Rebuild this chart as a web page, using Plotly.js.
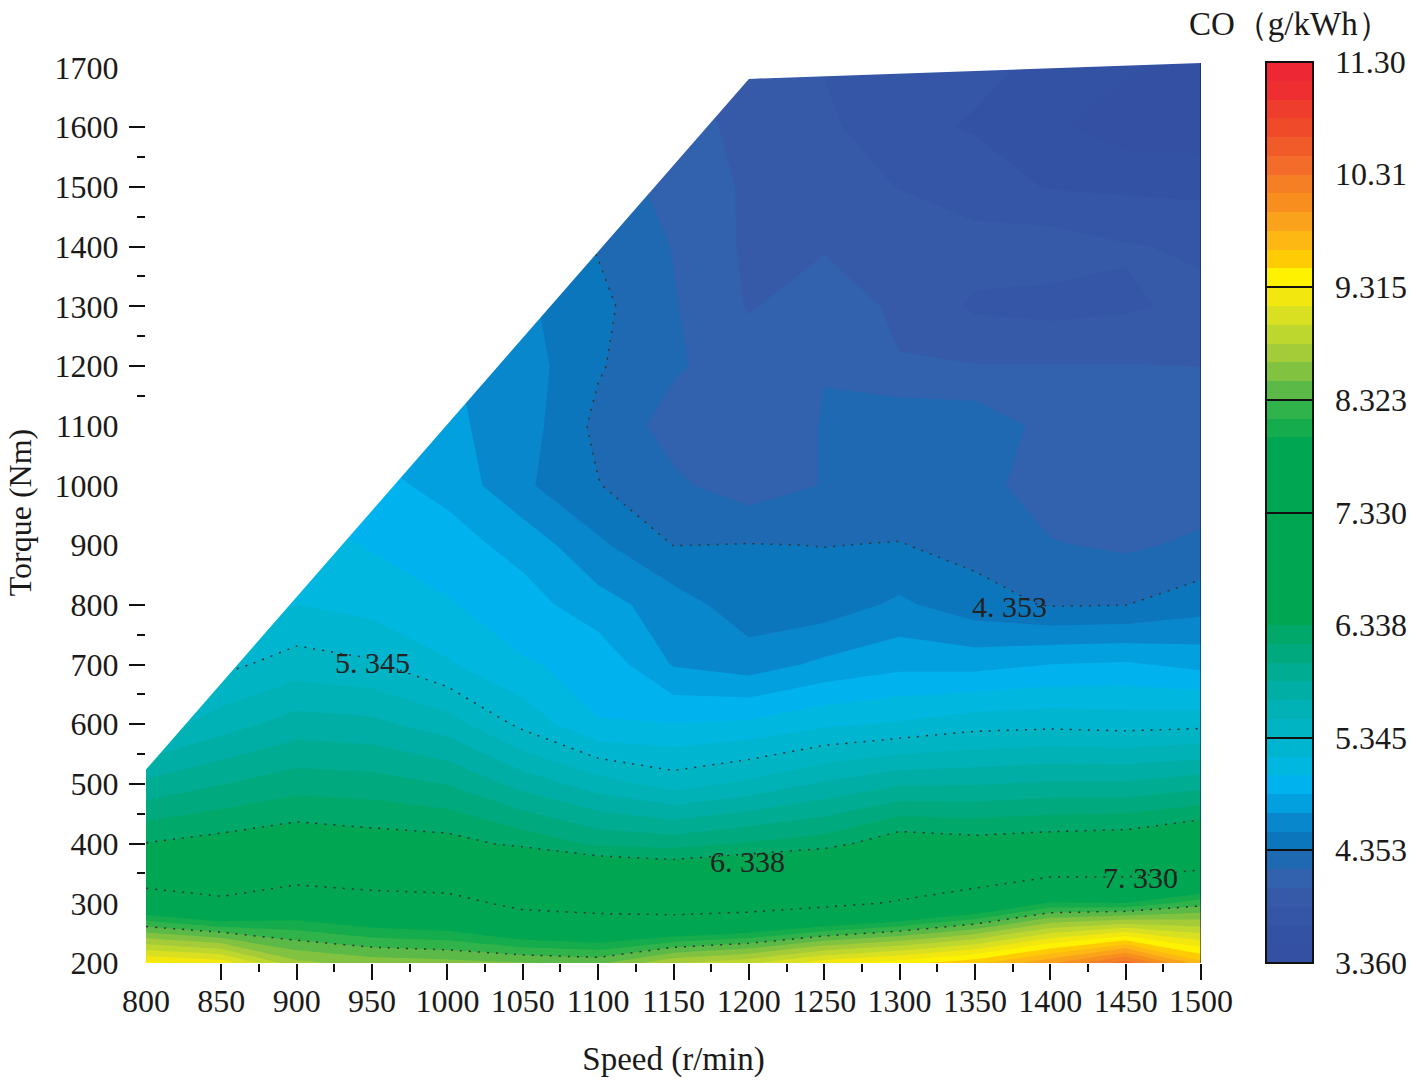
<!DOCTYPE html>
<html><head><meta charset="utf-8">
<script src="https://cdn.plot.ly/plotly-3.0.1.min.js"></script>
<style>html,body{margin:0;padding:0;background:#fff}</style></head>
<body><div id="chart" style="width:1417px;height:1088px"></div>
<script>
const speed = [800,850,900,950,1000,1050,1100,1150,1200,1250,1300,1350,1400,1450,1500];
const torque = [200,300,400,500,600,700,800,900,1000,1100,1200,1300,1400,1500,1600,1710];
const n = null;
const co200  = [9.35,9.25,8.7,8.59,8.55,8.5,8.45,8.8,8.95,9.25,9.4,9.6,9.95,10.4,9.7];
const co300  = [7.665,7.45,7.71,7.58,7.52,7.19,7.1,6.98,7.05,7.2,7.38,7.64,8.02,8.0,8.26];
const co400  = [6.345,6.41,6.475,6.43,6.41,6.29,6.14,6.105,6.19,6.26,6.47,6.42,6.455,6.48,6.6];
const co500  = [5.88,6.0,6.1,6.08,6.0,5.78,5.59,5.44,5.55,5.7,5.82,5.83,5.87,5.87,5.94];
const co600  = [5.4,5.6,5.75,5.72,5.59,5.3,5.02,5.02,5.05,5.15,5.2,5.28,5.3,5.28,5.3];
const co700  = [5.2,5.3,5.42,5.37,5.2,5.03,4.97,4.67,4.6,4.72,4.8,4.79,4.85,4.87,4.8];
const co800  = [n,5.05,5.18,5.12,5.03,4.92,4.75,4.6,4.42,4.43,4.55,4.42,4.34,4.35,4.45];
const co900  = [n,n,5.1,5.0,4.92,4.79,4.55,4.35,4.36,4.35,4.36,4.3,4.2,4.16,4.22];
const co1000 = [n,n,n,4.9,4.8,4.55,4.36,4.22,4.1,4.195,4.25,4.25,4.1,4.1,4.1];
const co1100 = [n,n,n,4.8,4.72,4.6,4.31,4.12,4.05,4.2,4.33,4.3,4.13,4.1,4.1];
const co1200 = [n,n,n,n,4.7,4.6,4.37,4.21,4.1,4.18,4.03,4.03,4.03,4.03,4.02];
const co1300 = [n,n,n,n,n,4.55,4.4,4.2,4.01,4.1,3.995,3.83,3.8,3.83,3.9];
const co1400 = [n,n,n,n,n,4.5,4.34,4.18,3.99,4.01,4.0,3.93,3.95,3.87,3.83];
const co1500 = [n,n,n,n,n,n,4.3,4.12,4.0,3.95,3.85,3.76,3.68,3.66,3.65];
const co1600 = [n,n,n,n,n,n,n,4.1,3.97,3.9,3.72,3.68,3.55,3.45,3.42];
const co1710 = [n,n,n,n,n,n,n,4.05,3.95,3.84,3.75,3.72,3.67,3.55,3.5];
const coGrid = [co200,co300,co400,co500,co600,co700,co800,co900,co1000,co1100,co1200,co1300,co1400,co1500,co1600,co1710];

const levelLabels = [3.36,4.353,5.345,6.338,7.33,8.323,9.315,10.31,11.3];
const levelText = ['3.360','4.353','5.345','6.338','7.330','8.323','9.315','10.31','11.30'];
const dividerLevels = [4.353,5.345,7.33,8.323,9.315];
const lineLevels = {start:4.353,end:9.315,size:0.9925};

// outline of the measured region (speed, torque); outside it the page stays white
const edgeSpeed = [800,1200,1500,1500,800];
const edgeTorque = [524,1681,1707.7,1730,1730];

const xTicks = [800,850,900,950,1000,1050,1100,1150,1200,1250,1300,1350,1400,1450,1500];
const yTicks = [200,300,400,500,600,700,800,900,1000,1100,1200,1300,1400,1500,1600,1700];
const xMarks = [850,900,950,1000,1050,1100,1150,1200,1250,1300,1350,1400,1450,1500];
const xMinor = [875,925,975,1025,1075,1125,1175,1225,1275,1325,1375,1425,1475];
const yMarks = [400,500,600,700,800,1200,1300,1400,1500,1600];
const yMinor = [350,450,550,650,750,1150,1250,1350,1450,1550];

const lineNotes = [
  {x:1373,y:797,text:'4. 353'},
  {x:950,y:703,text:'5. 345'},
  {x:1199,y:370,text:'6. 338'},
  {x:1460,y:343,text:'7. 330'}
];

const bandColors = ['#3450a3','#3452a4','#3556a6','#3659a8','#3262ae','#1f68b2','#0c76bd','#0987cd','#03a0e0','#00b3ef','#00b7e0','#00b5d0','#00b4c4','#00b2b6','#00aea5','#00ac92','#00a97e','#00a869',
 '#00a651','#00a651','#00a651','#00a651','#00a651','#00a651','#00a651','#00a651','#00a651','#00a651','#14ac4c','#2fb34a',
 '#5bb947','#81c341','#a4cc39','#bed72f','#d9e021','#f2e80f','#fff200','#ffcb05','#fdb813','#faa21b','#f78e1e','#f57f25','#f36c29','#f15a29','#ef4a2a','#ee3d2c','#ee2e31','#ed2733'];
const nLev = bandColors.length + 1;
const scale = [[0,bandColors[0]]];
bandColors.forEach((c,i)=>{ scale.push([(i+0.5)/nLev,c]); scale.push([(i+1.5)/nLev,c]); });
scale.push([1,bandColors[bandColors.length-1]]);

const serif = '"Liberation Serif","Times New Roman",serif';
const ink = '#1a1a1a';
const plotL = 146, plotW = 1055, paperW = 1171, plotTop = 62, plotH = 901;
const xDomain = [0,plotW/paperW];
const yRange = [200,1709.3];
const xRange = [800,1500];
const barL = (1266-plotL)/paperW;

const data = [
 {type:'contour',x:speed,y:torque,z:coGrid,zmin:3.36,zmax:11.3,connectgaps:false,
  autocontour:false,contours:{start:3.36,end:11.3,size:7.94/48,coloring:'fill',showlines:false},
  colorscale:scale,line:{width:0,smoothing:0},hoverinfo:'skip',
  colorbar:{x:barL,xanchor:'left',y:0,yanchor:'bottom',len:1,lenmode:'fraction',thickness:47,thicknessmode:'pixels',
   xpad:0,ypad:0,outlinewidth:2,outlinecolor:'#111',borderwidth:0,
   tickmode:'array',tickvals:dividerLevels,ticks:'inside',ticklen:47,tickwidth:2,tickcolor:'#111',showticklabels:false}},
 {type:'contour',x:speed,y:torque,z:coGrid,connectgaps:false,autocontour:false,showscale:false,
  contours:{start:lineLevels.start,end:lineLevels.end,size:lineLevels.size,coloring:'none'},
  line:{color:'#333',width:1.5,dash:'2px,7px',smoothing:0},hoverinfo:'skip'},
 {type:'scatter',x:edgeSpeed,y:edgeTorque,xaxis:'x2',yaxis:'y2',mode:'lines',fill:'toself',fillcolor:'#fff',
  line:{width:0},hoverinfo:'skip',showlegend:false}
];

const shapes = [{type:'line',xref:'x2',yref:'y2',x0:1500,x1:1500,y0:200,y1:1707.7,line:{color:'rgba(30,30,70,0.75)',width:1.5}}];

const annotations = lineNotes.map(a=>({x:a.x,y:a.y,xref:'x',yref:'y',text:a.text,showarrow:false,
  font:{family:serif,size:30,color:'#222'}}));
levelLabels.forEach((v,i)=>annotations.push({xref:'paper',yref:'paper',x:(1335-plotL)/paperW,y:(v-3.36)/7.94,
  text:levelText[i],showarrow:false,xanchor:'left',yanchor:'middle',xshift:-2,font:{family:serif,size:32,color:ink}}));
annotations.push({xref:'paper',yref:'paper',x:(1290-plotL)/paperW,y:(plotTop+plotH-24)/plotH,text:'CO（g/kWh）',showarrow:false,
  xanchor:'center',yanchor:'middle',font:{family:serif,size:33,color:ink}});

const layout = {
 width:1417,height:1088,autosize:false,showlegend:false,paper_bgcolor:'#fff',plot_bgcolor:'#fff',
 margin:{l:plotL,r:100,t:plotTop,b:125,pad:0},
 xaxis:{domain:xDomain,range:xRange,tickmode:'array',tickvals:xTicks,ticks:'outside',ticklen:10,tickcolor:'rgba(0,0,0,0)',
  showgrid:false,zeroline:false,showline:false,tickangle:0,tickfont:{family:serif,size:32,color:ink},
  title:{text:'Speed (r/min)',standoff:28,font:{family:serif,size:33,color:ink}}},
 yaxis:{range:yRange,tickmode:'array',tickvals:yTicks,ticks:'outside',ticklen:20,tickcolor:'rgba(0,0,0,0)',
  showgrid:false,zeroline:false,showline:false,tickfont:{family:serif,size:32,color:ink},
  title:{text:'Torque (Nm)',standoff:13,font:{family:serif,size:32,color:ink}}},
 xaxis2:{domain:xDomain,overlaying:'x',anchor:'y2',side:'bottom',range:xRange,tickmode:'array',tickvals:xMarks,ticks:'outside',ticklen:16,tickwidth:2,tickcolor:'#111',
  showticklabels:false,showgrid:false,zeroline:false,showline:false,
  minor:{tickmode:'array',tickvals:xMinor,ticks:'outside',ticklen:8,tickwidth:2,tickcolor:'#111',showgrid:false}},
 yaxis2:{overlaying:'y',anchor:'x2',side:'left',range:yRange,tickmode:'array',tickvals:yMarks,ticks:'outside',ticklen:16,tickwidth:2,tickcolor:'#111',
  showticklabels:false,showgrid:false,zeroline:false,showline:false,
  minor:{tickmode:'array',tickvals:yMinor,ticks:'outside',ticklen:8,tickwidth:2,tickcolor:'#111',showgrid:false}},
 shapes,annotations
};
Plotly.newPlot('chart',data,layout,{displayModeBar:false,staticPlot:true});
</script></body></html>
